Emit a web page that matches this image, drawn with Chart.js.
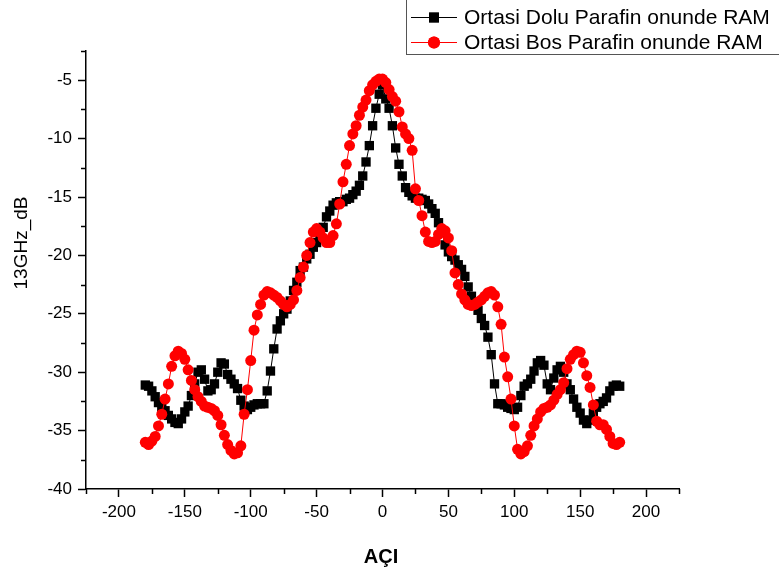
<!DOCTYPE html>
<html>
<head>
<meta charset="utf-8">
<script src="https://cdn.jsdelivr.net/npm/chart.js@4"></script>
<style>
  html, body { margin: 0; padding: 0; background: #fff; }
</style>
</head>
<body>
<canvas id="chart" width="779" height="572"></canvas>
<script>
// açı değerleri (derece)
const angles = [
  -180, -177.5, -175, -172.5, -170, -167.5, -165, -162.5, -160, -157.5,
  -155, -152.5, -150, -147.5, -145, -142.5, -140, -137.5, -135, -132.5,
  -130, -127.5, -125, -122.5, -120, -117.5, -115, -112.5, -110, -107.5,
  -105, -102.5, -100, -97.5, -95, -92.5, -90, -87.5, -85, -82.5,
  -80, -77.5, -75, -72.5, -70, -67.5, -65, -62.5, -60, -57.5,
  -55, -52.5, -50, -47.5, -45, -42.5, -40, -37.5, -35, -32.5,
  -30, -27.5, -25, -22.5, -20, -17.5, -15, -12.5, -10, -7.5,
  -5, -2.5, 0, 2.5, 5, 7.5, 10, 12.5, 15, 17.5,
  20, 22.5, 25, 27.5, 30, 32.5, 35, 37.5, 40, 42.5,
  45, 47.5, 50, 52.5, 55, 57.5, 60, 62.5, 65, 67.5,
  70, 72.5, 75, 77.5, 80, 82.5, 85, 87.5, 90, 92.5,
  95, 97.5, 100, 102.5, 105, 107.5, 110, 112.5, 115, 117.5,
  120, 122.5, 125, 127.5, 130, 132.5, 135, 137.5, 140, 142.5,
  145, 147.5, 150, 152.5, 155, 157.5, 160, 162.5, 165, 167.5,
  170, 172.5, 175, 177.5, 180
];

// Ortasi Dolu Parafin onunde RAM
const doluDb = [
  -31.1, -31.2, -31.6, -32.1, -32.6, -33.0, -33.3, -33.7, -34.0, -34.3,
  -34.4, -34.0, -33.4, -32.9, -32.0, -31.0, -30.0, -29.8, -30.6, -31.6,
  -31.5, -31.0, -30.0, -29.2, -29.3, -30.2, -30.6, -31.0, -31.4, -32.4,
  -32.9, -33.2, -33.0, -32.8, -32.7, -32.7, -32.7, -31.6, -29.9, -28.0,
  -26.3, -25.6, -25.0, -24.6, -23.9, -23.0, -22.3, -21.3, -21.0, -20.3,
  -19.9, -19.3, -18.9, -18.2, -17.6, -16.7, -16.2, -15.7, -15.5, -15.4,
  -15.4, -15.2, -15.1, -14.8, -14.5, -14.0, -13.2, -12.0, -10.6, -8.9,
  -7.4, -6.2, -5.4, -6.6, -7.4, -8.9, -10.8, -12.2, -13.2, -14.2,
  -14.6, -14.9, -15.1, -15.1, -15.2, -15.3, -15.6, -16.0, -16.4, -17.2,
  -18.0, -19.1, -19.7, -20.1, -20.4, -20.8, -21.2, -21.8, -22.7, -23.5,
  -24.1, -24.7, -25.4, -26.0, -27.0, -28.5, -31.0, -32.7, -32.7, -32.8,
  -33.0, -33.1, -33.2, -33.0, -32.0, -31.2, -31.0, -30.6, -29.9, -29.2,
  -29.0, -29.4, -31.0, -31.5, -30.5, -29.8, -29.5, -30.0, -31.0, -31.5,
  -32.3, -33.0, -33.5, -34.1, -34.4, -34.1, -33.5, -33.0, -32.7, -32.5,
  -32.2, -31.6, -31.2, -31.1, -31.2
];

// Ortasi Bos Parafin onunde RAM
const bosDb = [
  -36.0, -36.2, -35.9, -35.5, -34.6, -33.6, -32.3, -31.0, -29.5, -28.6,
  -28.2, -28.4, -28.9, -29.8, -30.7, -31.5, -32.1, -32.5, -32.9, -33.0,
  -33.1, -33.3, -33.7, -34.5, -35.4, -36.2, -36.7, -37.0, -36.9, -36.3,
  -33.6, -31.5, -29.0, -26.4, -25.1, -24.2, -23.4, -23.1, -23.2, -23.4,
  -23.6, -23.9, -24.2, -24.4, -24.2, -23.8, -23.0, -21.9, -21.0, -20.0,
  -18.9, -18.0, -17.7, -18.0, -18.5, -18.9, -18.9, -18.3, -17.3, -15.6,
  -13.7, -12.2, -10.6, -9.6, -8.9, -8.0, -7.3, -6.7, -5.9, -5.4,
  -5.1, -4.9, -4.9, -5.2, -5.8, -6.4, -6.8, -7.7, -9.0, -9.6,
  -10.0, -11.0, -14.3, -15.3, -16.6, -18.0, -18.8, -18.9, -18.8, -18.2,
  -17.7, -17.9, -18.5, -19.6, -21.5, -22.5, -23.3, -23.8, -24.2, -24.3,
  -24.2, -24.0, -23.8, -23.5, -23.2, -23.1, -23.4, -24.4, -25.9, -28.7,
  -30.4, -32.3, -34.6, -36.6, -37.0, -36.8, -36.3, -35.4, -34.6, -34.0,
  -33.4, -33.1, -33.0, -32.8, -32.4, -31.9, -31.5, -30.9, -29.7, -28.9,
  -28.5, -28.2, -28.3, -29.2, -30.3, -31.3, -32.8, -34.2, -34.5, -34.5,
  -34.9, -35.5, -36.1, -36.2, -36.0
];

const seriesNames = ["Ortasi Dolu Parafin onunde RAM", "Ortasi Bos Parafin onunde RAM"];

const xTicks = [-200, -150, -100, -50, 0, 50, 100, 150, 200];
const xMinorTicks = [-225, -175, -125, -75, -25, 25, 75, 125, 175, 225];
const yTicks = [-40, -35, -30, -25, -20, -15, -10, -5];
const yMinorTicks = [-37.5, -32.5, -27.5, -22.5, -17.5, -12.5, -7.5, -2.5];

const FONT = "'Liberation Sans', Arial, sans-serif";

// ara çentikler, eksen başlıkları ve lejant
const extras = {
  id: "extras",
  afterDraw(chart) {
    const ctx = chart.ctx;
    const xs = chart.scales.x, ys = chart.scales.y;
    const area = chart.chartArea;
    ctx.save();
    ctx.strokeStyle = "#000";
    ctx.lineWidth = 1.5;
    xMinorTicks.forEach(v => {
      const px = Math.round(xs.getPixelForValue(v)) + 0.5;
      ctx.beginPath();
      ctx.moveTo(px, area.bottom);
      ctx.lineTo(px, area.bottom + 5);
      ctx.stroke();
    });
    yMinorTicks.forEach(v => {
      const py = Math.round(ys.getPixelForValue(v)) + 0.5;
      ctx.beginPath();
      ctx.moveTo(area.left, py);
      ctx.lineTo(area.left - 5, py);
      ctx.stroke();
    });

    // eksen başlıkları
    ctx.fillStyle = "#000";
    ctx.textAlign = "center";
    ctx.textBaseline = "middle";
    ctx.font = "bold 20px " + FONT;
    ctx.fillText("AÇI", 381, 557);
    ctx.save();
    ctx.translate(22, 243);
    ctx.rotate(-Math.PI / 2);
    ctx.font = "19px " + FONT;
    ctx.fillText("13GHz_dB", 0, 0);
    ctx.restore();

    // lejant
    ctx.fillStyle = "#fff";
    ctx.fillRect(406, 0, 373, 54);
    ctx.strokeStyle = "#555";
    ctx.lineWidth = 1;
    ctx.strokeRect(406.5, -1, 380, 55.5);
    const rows = [
      { y: 17, color: "#000", style: "rect", r: 7 },
      { y: 42, color: "#ff0000", style: "circle", r: 6 }
    ];
    rows.forEach((row, i) => {
      ctx.strokeStyle = row.color;
      ctx.lineWidth = 1;
      ctx.beginPath();
      ctx.moveTo(411, row.y + 0.5);
      ctx.lineTo(457, row.y + 0.5);
      ctx.stroke();
      ctx.fillStyle = row.color;
      Chart.helpers.drawPoint(ctx, { pointStyle: row.style, radius: row.r, borderWidth: 0 }, 434, row.y + 0.5);
      ctx.fill();
      ctx.fillStyle = "#000";
      ctx.textAlign = "left";
      ctx.font = "21px " + FONT;
      ctx.fillText(seriesNames[i], 464, row.y + 1);
    });
    ctx.restore();
  }
};

const ctx = document.getElementById("chart").getContext("2d");
new Chart(ctx, {
  type: "line",
  data: {
    datasets: [
      {
        label: seriesNames[0],
        data: angles.map((a, i) => ({ x: a, y: doluDb[i] })),
        borderColor: "#000",
        borderWidth: 1,
        pointStyle: "rect",
        pointRadius: 6.6,
        pointBorderWidth: 0,
        pointBackgroundColor: "#000",
        order: 2
      },
      {
        label: seriesNames[1],
        data: angles.map((a, i) => ({ x: a, y: bosDb[i] })),
        borderColor: "#ff0000",
        borderWidth: 1,
        pointStyle: "circle",
        pointRadius: 5.5,
        pointBorderWidth: 0,
        pointBackgroundColor: "#ff0000",
        order: 1
      }
    ]
  },
  options: {
    responsive: false,
    devicePixelRatio: 1,
    animation: false,
    layout: { padding: { left: 0, top: 51, right: 100, bottom: 0 } },
    plugins: {
      legend: { display: false },
      tooltip: { enabled: false }
    },
    scales: {
      x: {
        type: "linear",
        min: -225,
        max: 225,
        afterBuildTicks: s => { s.ticks = xTicks.map(v => ({ value: v })); },
        afterFit: s => { s.height = 83; },
        ticks: { color: "#000", font: { family: FONT, size: 17 }, padding: 5, maxRotation: 0 },
        grid: { drawOnChartArea: false, drawTicks: true, tickLength: 8, tickColor: "#000", tickWidth: 1.5 },
        border: { color: "#000", width: 1.5 }
      },
      y: {
        type: "linear",
        min: -40,
        max: -2.5,
        afterBuildTicks: s => { s.ticks = yTicks.map(v => ({ value: v })); },
        afterFit: s => { s.width = 86; },
        ticks: { color: "#000", font: { family: FONT, size: 17 }, padding: 6 },
        grid: { drawOnChartArea: false, drawTicks: true, tickLength: 8, tickColor: "#000", tickWidth: 1.5 },
        border: { color: "#000", width: 1.5 }
      }
    }
  },
  plugins: [extras]
});
</script>
</body>
</html>
